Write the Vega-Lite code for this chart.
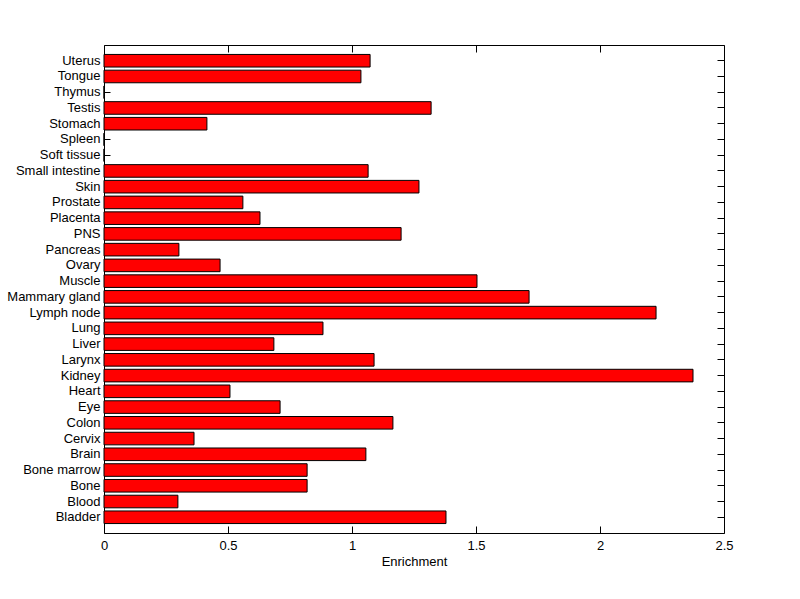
{
  "$schema": "https://vega.github.io/schema/vega-lite/v6.json",
  "width": 620,
  "height": 488,
  "autosize": "none",
  "padding": {"left": 104, "top": 45, "right": 76, "bottom": 66},
  "background": "white",
  "config": {
    "view": {"stroke": "black", "strokeWidth": 1},
    "font": "Liberation Sans",
    "axis": {
      "domain": false,
      "grid": false,
      "tickColor": "black",
      "tickWidth": 1,
      "labelColor": "black",
      "labelFont": "Liberation Sans",
      "labelFontSize": 13,
      "labelFlush": false,
      "labelOverlap": false,
      "titleFont": "Liberation Sans",
      "titleFontSize": 13,
      "titleFontWeight": "normal",
      "titleColor": "black"
    }
  },
  "data": {
    "values": [
      {"tissue": "Uterus", "enrichment": 1.073},
      {"tissue": "Tongue", "enrichment": 1.036},
      {"tissue": "Thymus", "enrichment": 0},
      {"tissue": "Testis", "enrichment": 1.319},
      {"tissue": "Stomach", "enrichment": 0.415},
      {"tissue": "Spleen", "enrichment": 0},
      {"tissue": "Soft tissue", "enrichment": 0},
      {"tissue": "Small intestine", "enrichment": 1.065},
      {"tissue": "Skin", "enrichment": 1.27},
      {"tissue": "Prostate", "enrichment": 0.56},
      {"tissue": "Placenta", "enrichment": 0.629},
      {"tissue": "PNS", "enrichment": 1.198},
      {"tissue": "Pancreas", "enrichment": 0.302},
      {"tissue": "Ovary", "enrichment": 0.468},
      {"tissue": "Muscle", "enrichment": 1.504},
      {"tissue": "Mammary gland", "enrichment": 1.714},
      {"tissue": "Lymph node", "enrichment": 2.226},
      {"tissue": "Lung", "enrichment": 0.883},
      {"tissue": "Liver", "enrichment": 0.685},
      {"tissue": "Larynx", "enrichment": 1.089},
      {"tissue": "Kidney", "enrichment": 2.375},
      {"tissue": "Heart", "enrichment": 0.508},
      {"tissue": "Eye", "enrichment": 0.71},
      {"tissue": "Colon", "enrichment": 1.165},
      {"tissue": "Cervix", "enrichment": 0.363},
      {"tissue": "Brain", "enrichment": 1.056},
      {"tissue": "Bone marrow", "enrichment": 0.819},
      {"tissue": "Bone", "enrichment": 0.819},
      {"tissue": "Blood", "enrichment": 0.298},
      {"tissue": "Bladder", "enrichment": 1.379}
    ]
  },
  "layer": [
    {
      "mark": {"type": "bar", "fill": "#ff0000", "stroke": "black", "strokeWidth": 1},
      "encoding": {
        "y": {
          "field": "tissue", "type": "nominal", "sort": null,
          "scale": {"paddingInner": 0.2, "paddingOuter": 0.6},
          "axis": {"orient": "left", "title": null, "tickSize": -6, "labelPadding": 10}
        },
        "x": {
          "field": "enrichment", "type": "quantitative",
          "scale": {"domain": [0, 2.5], "nice": false},
          "axis": {"orient": "bottom", "title": "Enrichment", "values": [0, 0.5, 1, 1.5, 2, 2.5], "labelExpr": "datum.value + ''", "tickSize": -7, "labelPadding": 13, "titlePadding": 3}
        }
      }
    },
    {
      "mark": {"type": "bar", "opacity": 0},
      "encoding": {
        "y": {
          "field": "tissue", "type": "nominal", "sort": null,
          "axis": {"orient": "right", "title": null, "labels": false, "tickSize": -7}
        },
        "x": {
          "field": "enrichment", "type": "quantitative",
          "axis": {"orient": "top", "title": null, "labels": false, "values": [0, 0.5, 1, 1.5, 2, 2.5], "tickSize": -7}
        }
      }
    }
  ],
  "resolve": {"axis": {"x": "independent", "y": "independent"}}
}
